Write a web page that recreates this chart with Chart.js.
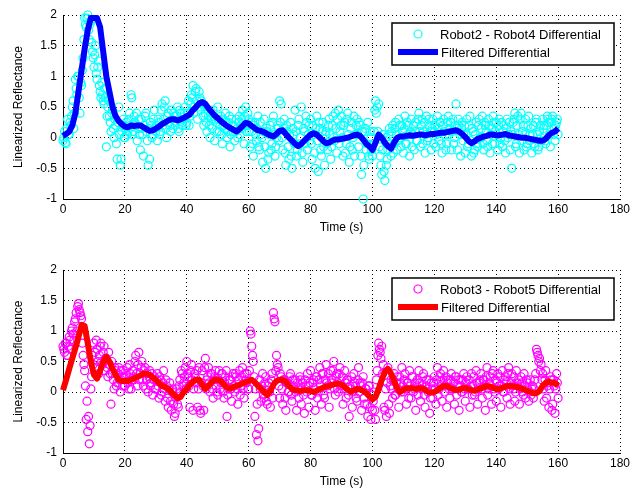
<!DOCTYPE html>
<html>
<head>
<meta charset="utf-8">
<script src="https://cdn.jsdelivr.net/npm/chart.js@4.4.0/dist/chart.umd.min.js"></script>
<style>
  html, body { margin: 0; padding: 0; background: #fff; }
  #fig { position: relative; width: 643px; height: 493px; }
  canvas { position: absolute; left: 0; }
</style>
</head>
<body>
<div id="fig">
  <canvas id="topChart" width="643" height="247" style="top:0;width:643px;height:247px"></canvas>
  <canvas id="bottomChart" width="643" height="246" style="top:247px;width:643px;height:246px"></canvas>
</div>
<script>
// sampling of the raw differential and the filtered trace (seconds)
const rawStep = 0.5;   // each raw array: one reading every 0.5 s
const rawOffsetB = 0.25; // second raw array sits between the first one's readings
const filtStep = 1;

const xTicks = [0, 20, 40, 60, 80, 100, 120, 140, 160, 180];
const yTicks = [-1, -0.5, 0, 0.5, 1, 1.5, 2];

// Robot2 - Robot4, raw readings at 0, 0.5, 1 ... s
const raw24 = [
  -0.05, 0.10, -0.10, 0.30, 0.05, 0.20, 0.50, 0.15, 0.95, 0.70,
  1.00, 0.40, 0.85, 1.30, 1.95, 1.80, 2.00, 1.60, 1.90, 1.40,
  1.15, 1.50, 0.95, 1.25, 0.75, 0.90, 0.60, 0.80, -0.15, 0.50,
  0.35, 0.10, 0.45, 0.00, 0.20, -0.35, 0.50, -0.45, 0.10, 0.30,
  0.00, 0.25, 0.10, 0.40, 0.70, 0.05, 0.35, 0.20, -0.05, 0.30,
  -0.20, 0.15, -0.30, 0.35, 0.10, -0.45, -0.35, 0.20, 0.05, 0.45,
  0.10, -0.05, 0.25, 0.10, 0.55, 0.30, 0.60, 0.00, 0.40, 0.20,
  0.45, 0.15, 0.35, 0.25, 0.50, 0.10, 0.40, 0.20, 0.30, 0.50,
  0.25, 0.60, 0.35, 0.70, 0.85, 0.50, 0.80, 0.30, 0.75, 0.45,
  0.55, 0.20, 0.40, 0.10, 0.35, 0.00, 0.30, 0.45, -0.05, 0.25,
  0.50, 0.10, 0.35, -0.10, 0.20, 0.40, 0.00, 0.25, -0.15, 0.30,
  0.10, -0.05, 0.30, 0.00, 0.35, 0.15, 0.45, -0.10, 0.50, 0.20,
  0.30, -0.15, 0.10, -0.30, 0.25, -0.05, 0.35, -0.20, 0.05, -0.40,
  0.30, -0.50, 0.10, -0.25, 0.20, -0.10, 0.35, -0.30, 0.00, 0.15,
  0.60, 0.55, -0.20, 0.30, -0.45, 0.10, -0.35, 0.25, -0.50, 0.05,
  0.45, -0.30, 0.20, -0.10, 0.50, -0.40, 0.10, 0.35, -0.20, 0.20,
  0.30, -0.35, 0.05, -0.50, 0.35, -0.55, 0.15, -0.30, 0.25, -0.45,
  0.10, -0.20, 0.30, -0.35, 0.20, 0.00, 0.40, -0.25, 0.45, 0.10,
  0.35, -0.30, 0.25, -0.10, 0.40, -0.40, 0.15, -0.20, 0.35, 0.05,
  0.30, -0.15, 0.20, -0.60, -1.00, 0.10, -0.20, 0.25, -0.35, 0.00,
  -0.30, 0.10, 0.60, 0.50, 0.55, -0.30, -0.60, 0.05, -0.70, -0.45,
  -0.20, 0.15, -0.30, 0.20, -0.10, 0.25, -0.20, 0.30, 0.00, 0.20,
  -0.25, 0.35, -0.10, 0.20, -0.30, 0.30, 0.05, -0.20, 0.25, -0.05,
  0.40, -0.15, 0.30, 0.10, -0.25, 0.35, 0.00, 0.20, -0.20, 0.30,
  0.10, -0.15, 0.35, -0.05, 0.25, -0.25, 0.30, 0.05, -0.10, 0.35,
  0.15, -0.20, 0.30, 0.00, 0.55, -0.20, 0.20, -0.30, 0.25, 0.05,
  -0.25, 0.30, -0.10, 0.35, -0.30, 0.10, -0.20, 0.25, -0.15, 0.30,
  0.00, 0.35, -0.20, 0.20, -0.05, 0.30, -0.25, 0.15, 0.35, -0.10,
  0.25, -0.20, 0.30, 0.00, -0.15, 0.20, -0.25, 0.30, 0.05, -0.20,
  -0.50, 0.25, 0.40, -0.10, 0.35, -0.25, 0.40, 0.10, -0.20, 0.30,
  -0.10, 0.35, 0.05, -0.25, 0.20, -0.15, 0.30, -0.20, 0.10, 0.00,
  0.30, 0.20, -0.10, 0.35, 0.25, -0.15, 0.30, 0.05, -0.05, 0.25,
  0.05
];

// Robot2 - Robot4, raw readings at 0.25, 0.75, 1.25 ... s
const raw24b = [
  0.00, -0.08, 0.15, 0.05, 0.25, 0.35, 0.60, 0.40, 0.80, 1.00,
  0.65, 0.90, 1.10, 1.60, 1.85, 1.95, 1.75, 1.85, 1.55, 1.30,
  1.35, 1.05, 1.15, 0.85, 0.65, 0.70, 0.55, 0.65, 0.35, 0.60,
  0.25, 0.40, 0.15, 0.30, -0.10, 0.25, 0.05, -0.35, 0.20, 0.00,
  0.15, 0.05, 0.30, 0.20, 0.65, 0.10, 0.25, 0.40, 0.15, 0.05,
  0.30, 0.05, 0.20, 0.40, -0.05, 0.15, 0.25, 0.00, 0.30, 0.15,
  0.20, 0.30, 0.05, 0.45, 0.20, 0.50, 0.15, 0.35, 0.25, 0.10,
  0.30, 0.40, 0.20, 0.35, 0.15, 0.45, 0.30, 0.25, 0.40, 0.20,
  0.40, 0.20, 0.55, 0.65, 0.40, 0.75, 0.60, 0.50, 0.65, 0.60,
  0.35, 0.50, 0.25, 0.45, 0.20, 0.40, 0.15, 0.35, 0.30, 0.10,
  0.30, 0.20, 0.05, 0.30, 0.15, 0.25, 0.10, 0.35, 0.05, 0.20,
  0.20, 0.10, 0.15, 0.25, 0.05, 0.30, 0.20, 0.35, 0.10, 0.40,
  0.10, 0.25, -0.10, 0.20, 0.05, 0.15, -0.15, 0.25, 0.00, 0.10,
  -0.15, 0.15, -0.35, 0.05, -0.20, 0.25, 0.05, -0.15, 0.20, -0.05,
  0.25, 0.00, 0.15, -0.25, 0.20, -0.15, 0.05, -0.30, 0.15, -0.10,
  0.10, -0.20, 0.30, 0.00, -0.25, 0.15, -0.10, 0.25, 0.05, -0.05,
  -0.10, 0.20, -0.25, 0.15, -0.05, 0.25, -0.20, 0.10, -0.15, 0.05,
  -0.10, 0.20, 0.05, -0.15, 0.35, -0.05, 0.15, 0.30, -0.10, 0.20,
  0.00, 0.20, -0.25, 0.30, 0.05, -0.15, 0.25, 0.00, -0.30, 0.20,
  0.05, 0.25, -0.30, 0.10, -0.45, 0.15, -0.10, -0.30, 0.10, -0.20,
  -0.10, 0.45, 0.40, 0.10, -0.15, -0.45, -0.20, -0.55, 0.00, -0.35,
  0.05, -0.10, 0.10, -0.25, 0.15, 0.05, -0.05, 0.20, -0.15, 0.10,
  0.15, -0.10, 0.25, 0.05, 0.10, -0.15, 0.20, 0.10, -0.05, 0.30,
  0.10, 0.20, -0.10, 0.25, 0.05, -0.05, 0.30, 0.10, 0.15, -0.10,
  0.20, 0.05, 0.15, 0.25, -0.10, 0.20, 0.10, -0.20, 0.25, 0.05,
  0.25, 0.10, -0.10, 0.20, 0.15, 0.30, 0.05, 0.15, -0.05, 0.20,
  0.05, -0.15, 0.20, -0.05, 0.15, -0.25, 0.05, -0.10, 0.20, 0.00,
  0.15, -0.10, 0.25, 0.10, -0.15, 0.20, 0.05, -0.10, 0.25, 0.10,
  0.05, 0.20, -0.10, 0.25, 0.10, -0.05, 0.15, 0.00, 0.25, 0.10,
  0.05, 0.30, -0.15, 0.20, 0.05, 0.30, -0.05, 0.20, 0.05, -0.15,
  0.20, -0.05, 0.15, 0.05, -0.10, 0.25, 0.05, -0.15, 0.20, -0.05,
  0.15, -0.05, 0.20, 0.30, 0.05, 0.25, 0.35, 0.15, 0.20, 0.30
];

// Robot2 - Robot4, filtered, every 1 s
const filt24 = [
  0.03, 0.06, 0.10, 0.20, 0.40, 0.75, 1.10, 1.45, 1.75, 1.95,
  1.95, 1.95, 1.80, 1.40, 1.00, 0.75, 0.50, 0.35, 0.27, 0.22,
  0.18, 0.17, 0.20, 0.19, 0.20, 0.20, 0.17, 0.14, 0.11, 0.12,
  0.15, 0.18, 0.22, 0.25, 0.28, 0.30, 0.30, 0.28, 0.30, 0.32,
  0.35, 0.38, 0.45, 0.50, 0.56, 0.58, 0.55, 0.48, 0.42, 0.36,
  0.32, 0.27, 0.23, 0.19, 0.16, 0.13, 0.10, 0.14, 0.19, 0.24,
  0.23, 0.19, 0.15, 0.12, 0.11, 0.09, 0.06, 0.04, 0.02, 0.06,
  0.11, 0.12, 0.06, 0.00, -0.05, -0.10, -0.14, -0.10, -0.05, 0.00,
  0.05, 0.07, 0.05, 0.00, -0.05, -0.09, -0.08, -0.05, -0.03, -0.03,
  -0.02, -0.01, 0.00, 0.02, 0.04, 0.05, 0.03, -0.03, -0.10, -0.14,
  -0.20, -0.08, 0.05, 0.00, -0.08, -0.14, -0.18, -0.08, 0.00, 0.02,
  0.02, 0.03, 0.04, 0.03, 0.04, 0.05, 0.05, 0.04, 0.05, 0.06,
  0.06, 0.07, 0.08, 0.08, 0.09, 0.10, 0.11, 0.12, 0.10, 0.06,
  0.01, -0.05, -0.09, -0.06, -0.02, 0.00, 0.02, 0.03, 0.05, 0.05,
  0.04, 0.04, 0.05, 0.06, 0.04, 0.03, 0.02, 0.01, 0.00, 0.00,
  -0.01, -0.02, -0.03, -0.04, -0.05, -0.05, -0.02, 0.04, 0.08, 0.10,
  0.15
];

// Robot3 - Robot5, raw readings at 0, 0.5, 1 ... s
const raw35 = [
  0.75, 0.65, 0.80, 0.60, 0.90, 0.70, 1.05, 0.85, 1.20, 1.00,
  1.45, 1.30, 1.20, 0.60, 0.35, -0.45, -0.65, -0.85, 0.05, 0.60,
  0.80, 0.40, 0.70, 0.30, 0.75, 0.50, 0.65, 0.35, 0.55, 0.25,
  0.45, -0.20, 0.30, 0.05, 0.35, 0.15, 0.40, 0.00, 0.25, 0.35,
  0.10, 0.30, 0.15, 0.45, 0.05, 0.35, 0.20, 0.60, 0.10, 0.65,
  0.30, 0.50, 0.10, 0.40, 0.20, 0.00, 0.35, 0.15, -0.05, 0.25,
  0.05, 0.30, -0.10, 0.20, 0.00, 0.35, -0.15, 0.10, -0.25, 0.15,
  -0.30, 0.05, -0.40, -0.10, -0.20, 0.10, 0.00, 0.30, 0.15, 0.40,
  0.50, 0.25, -0.25, 0.45, -0.30, 0.30, 0.15, -0.25, 0.40, -0.35,
  0.35, -0.30, 0.55, 0.20, 0.40, 0.00, 0.30, -0.10, 0.25, 0.10,
  -0.05, 0.35, 0.15, 0.30, -0.10, 0.25, -0.40, 0.05, 0.20, -0.15,
  0.30, 0.00, 0.25, -0.20, 0.35, 0.10, 0.40, -0.10, 0.20, 0.30,
  0.05, 1.00, 0.75, 0.50, -0.40, -0.70, -0.80, 0.20, -0.15, 0.30,
  -0.10, 0.25, -0.20, 0.15, -0.25, 0.30, 1.30, 1.15, 0.60, 0.40,
  -0.10, 0.25, -0.20, 0.20, -0.30, 0.15, 0.00, 0.30, -0.15, 0.10,
  0.20, -0.30, 0.05, 0.25, -0.20, 0.15, -0.35, 0.10, 0.30, -0.25,
  0.35, -0.05, 0.20, -0.30, 0.25, 0.00, 0.40, -0.20, 0.30, -0.10,
  0.45, 0.10, -0.25, 0.35, 0.15, 0.50, -0.05, 0.30, 0.00, 0.40,
  0.10, -0.20, 0.35, -0.10, 0.20, -0.40, 0.05, -0.25, 0.30, 0.10,
  -0.15, 0.40, 0.15, -0.30, 0.25, -0.20, 0.05, -0.40, 0.10, -0.45,
  -0.30, 0.00, -0.45, 0.35, 0.80, 0.65, 0.75, 0.45, -0.30, -0.40,
  0.40, -0.35, 0.20, -0.10, 0.30, -0.05, 0.25, -0.25, 0.15, 0.40,
  0.00, 0.30, -0.20, 0.15, 0.35, -0.10, 0.25, 0.05, -0.30, 0.20,
  0.35, -0.15, 0.10, 0.30, -0.25, 0.20, 0.00, -0.35, 0.15, -0.10,
  0.25, -0.20, 0.40, 0.05, 0.30, -0.15, 0.35, 0.10, -0.25, 0.20,
  -0.10, 0.30, 0.05, -0.20, 0.25, 0.10, -0.30, 0.20, 0.00, 0.30,
  -0.15, 0.25, 0.05, -0.25, 0.30, 0.10, -0.05, 0.35, -0.20, 0.15,
  0.30, -0.10, 0.20, -0.30, 0.40, 0.05, 0.25, -0.20, 0.35, 0.00,
  -0.15, 0.30, 0.10, -0.25, 0.35, 0.00, 0.25, -0.10, 0.40, -0.20,
  0.30, 0.05, -0.15, 0.35, 0.10, -0.20, 0.25, 0.00, 0.30, -0.10,
  0.15, -0.15, 0.20, 0.05, -0.10, 0.20, 0.70, 0.60, 0.55, 0.45,
  0.30, -0.15, 0.35, 0.10, -0.25, 0.25, -0.30, 0.20, -0.35, 0.30,
  -0.10
];

// Robot3 - Robot5, raw readings at 0.25, 0.75, 1.25 ... s
const raw35b = [
  0.70, 0.80, 0.60, 0.75, 0.85, 1.00, 0.95, 1.15, 1.30, 1.40,
  1.35, 1.25, 0.80, 0.45, 0.10, -0.15, -0.40, -0.55, 0.25, 0.45,
  0.65, 0.85, 0.50, 0.60, 0.80, 0.45, 0.75, 0.55, 0.40, 0.65,
  0.30, 0.50, 0.20, 0.40, 0.10, 0.30, 0.20, 0.35, 0.10, 0.25,
  0.25, 0.40, 0.05, 0.30, 0.20, 0.25, 0.50, 0.30, 0.45, 0.20,
  0.40, 0.20, 0.35, 0.05, 0.30, 0.25, 0.10, 0.30, 0.20, 0.05,
  0.20, 0.10, 0.25, -0.05, 0.15, 0.05, 0.20, -0.10, 0.05, -0.15,
  0.00, -0.20, -0.35, 0.05, -0.25, 0.20, 0.35, 0.10, 0.25, 0.05,
  0.30, 0.10, 0.35, 0.20, 0.05, 0.25, 0.35, 0.05, -0.30, 0.15,
  0.10, 0.40, 0.05, 0.25, 0.15, 0.30, 0.05, 0.20, 0.35, 0.00,
  0.20, 0.05, 0.30, 0.00, 0.15, 0.35, -0.05, 0.20, 0.05, 0.25,
  0.10, 0.30, 0.05, 0.20, -0.05, 0.25, 0.05, 0.30, 0.15, 0.05,
  0.35, 0.95, 0.60, 0.25, 0.05, -0.20, -0.60, 0.05, 0.10, -0.05,
  0.15, -0.15, 0.10, 0.00, 0.20, -0.10, 1.20, 0.35, 0.45, 0.10,
  0.30, 0.05, 0.20, -0.10, 0.15, 0.00, 0.25, -0.05, 0.20, 0.05,
  0.00, 0.15, -0.10, 0.20, 0.05, -0.05, 0.20, 0.00, 0.10, 0.15,
  -0.05, 0.15, 0.05, 0.25, -0.10, 0.20, 0.10, 0.30, -0.05, 0.20,
  0.15, 0.30, 0.05, 0.20, 0.35, 0.05, 0.25, 0.15, 0.30, 0.05,
  0.25, 0.05, 0.15, 0.20, -0.05, 0.10, 0.25, 0.00, 0.15, -0.10,
  0.20, 0.00, 0.10, 0.15, -0.10, 0.05, -0.20, 0.10, -0.25, -0.05,
  -0.15, -0.30, 0.20, 0.60, 0.70, 0.55, 0.30, -0.25, 0.05, 0.15,
  -0.20, 0.10, 0.05, 0.20, -0.05, 0.15, 0.05, 0.25, 0.00, 0.10,
  0.20, 0.05, 0.15, -0.10, 0.10, 0.25, 0.00, 0.15, 0.10, -0.05,
  0.15, 0.05, 0.25, -0.05, 0.10, 0.05, 0.20, -0.10, 0.05, 0.15,
  0.05, 0.20, -0.05, 0.25, 0.10, 0.20, 0.00, 0.25, 0.15, 0.05,
  0.20, 0.05, 0.15, 0.25, -0.05, 0.20, 0.10, 0.00, 0.20, 0.05,
  0.15, 0.05, 0.20, 0.10, -0.05, 0.25, 0.00, 0.15, 0.05, 0.20,
  0.05, 0.20, 0.10, 0.25, -0.05, 0.15, 0.10, 0.30, 0.05, 0.20,
  0.15, 0.05, 0.25, 0.10, 0.00, 0.20, 0.15, 0.30, 0.05, 0.15,
  0.10, 0.25, 0.00, 0.15, 0.20, 0.05, 0.15, -0.05, 0.10, 0.20,
  0.05, 0.00, -0.05, 0.10, 0.05, 0.30, 0.65, 0.50, 0.35, 0.20,
  0.05, 0.20, -0.10, 0.15, 0.05, 0.20, -0.20, 0.10, 0.05, 0.15
];

// Robot3 - Robot5, filtered, every 1 s
const filt35 = [
  0.03, 0.20, 0.38, 0.55, 0.72, 0.90, 1.10, 1.08, 0.80, 0.50,
  0.28, 0.22, 0.35, 0.50, 0.58, 0.50, 0.38, 0.28, 0.20, 0.18,
  0.18, 0.18, 0.20, 0.22, 0.25, 0.27, 0.30, 0.30, 0.28, 0.24,
  0.20, 0.15, 0.10, 0.08, 0.05, 0.00, -0.05, -0.10, -0.08, 0.00,
  0.05, 0.12, 0.17, 0.20, 0.20, 0.12, 0.05, 0.10, 0.16, 0.20,
  0.20, 0.18, 0.12, 0.07, 0.06, 0.08, 0.10, 0.12, 0.14, 0.16,
  0.18, 0.20, 0.16, 0.10, 0.05, 0.00, -0.05, 0.02, 0.12, 0.18,
  0.20, 0.20, 0.17, 0.10, 0.05, 0.03, 0.02, 0.02, 0.03, 0.03,
  0.02, 0.00, 0.02, 0.05, 0.07, 0.09, 0.10, 0.12, 0.13, 0.14,
  0.12, 0.08, 0.04, 0.00, 0.03, 0.05, 0.04, 0.02, -0.02, -0.07,
  -0.12, -0.08, 0.05, 0.20, 0.33, 0.38, 0.30, 0.18, 0.06, 0.00,
  0.04, 0.06, 0.06, 0.06, 0.05, 0.06, 0.06, 0.04, 0.00, -0.01,
  0.00, 0.03, 0.07, 0.10, 0.10, 0.07, 0.05, 0.03, 0.04, 0.06,
  0.07, 0.05, 0.03, 0.02, 0.04, 0.06, 0.08, 0.10, 0.09, 0.07,
  0.05, 0.05, 0.07, 0.09, 0.10, 0.10, 0.09, 0.08, 0.06, 0.04,
  0.02, 0.00, -0.02, -0.02, 0.02, 0.10, 0.15, 0.17, 0.15, 0.15,
  0.10
];

const toPoints = (vals, step, offset = 0) => vals.map((v, i) => ({ x: offset + i * step, y: v }));

const FONT = 'Liberation Sans, Arial, Helvetica, sans-serif';

// MATLAB style legend box in the upper right of the axes
const boxLegend = {
  id: 'boxLegend',
  afterDraw(chart) {
    const { ctx, chartArea } = chart;
    const raw = chart.data.datasets[0];
    const filt = chart.data.datasets[1];
    const w = 222, h = 42;
    const left = chartArea.right - 6 - w;
    const top = chartArea.top + 8;
    ctx.save();
    ctx.fillStyle = '#fff';
    ctx.fillRect(left, top, w, h);
    ctx.strokeStyle = '#000';
    ctx.lineWidth = 1.5;
    ctx.strokeRect(left, top, w, h);

    // raw marker
    ctx.beginPath();
    ctx.arc(left + 26, top + 11, 4, 0, Math.PI * 2);
    ctx.strokeStyle = raw.borderColor;
    ctx.lineWidth = 1.2;
    ctx.stroke();

    // filtered line sample
    ctx.beginPath();
    ctx.moveTo(left + 6, top + 29);
    ctx.lineTo(left + 46, top + 29);
    ctx.strokeStyle = filt.borderColor;
    ctx.lineWidth = 6;
    ctx.stroke();

    ctx.fillStyle = '#000';
    ctx.font = '13px ' + FONT;
    ctx.textBaseline = 'middle';
    ctx.fillText(raw.label, left + 48, top + 12);
    ctx.fillText(filt.label, left + 49, top + 30);
    ctx.restore();
  }
};

function makeChart(id, rawA, rawB, filtVals, rawLabel, rawColor, filtColor, padTop, xAxisH, titlePad) {
  return new Chart(document.getElementById(id), {
    type: 'scatter',
    data: {
      datasets: [{
        label: rawLabel,
        data: toPoints(rawA, rawStep).concat(toPoints(rawB, rawStep, rawOffsetB)),
        borderColor: rawColor,
        backgroundColor: 'rgba(0,0,0,0)',
        pointRadius: 4,
        pointBorderWidth: 1.2,
        showLine: false,
        order: 2,
        clip: 8
      }, {
        label: 'Filtered Differential',
        data: toPoints(filtVals, filtStep),
        borderColor: filtColor,
        backgroundColor: filtColor,
        borderWidth: 6,
        borderJoinStyle: 'round',
        pointRadius: 0,
        showLine: true,
        tension: 0,
        order: 1,
        clip: 8
      }]
    },
    options: {
      responsive: false,
      animation: false,
      devicePixelRatio: 1,
      events: [],
      layout: { padding: { top: padTop, right: 23, left: 0, bottom: 0 } },
      plugins: { legend: { display: false }, tooltip: { enabled: false } },
      scales: {
        x: {
          type: 'linear',
          min: 0, max: 180,
          afterBuildTicks: axis => { axis.ticks = xTicks.map(v => ({ value: v })); },
          afterFit: axis => { axis.height = xAxisH; },
          grid: { color: '#000', lineWidth: 1, drawTicks: false },
          border: { color: '#000', width: 1, dash: [1, 3] },
          ticks: { color: '#000', padding: 3, maxRotation: 0, font: { family: FONT, size: 12 } },
          title: { display: true, text: 'Time (s)', color: '#000', padding: { top: 0, bottom: titlePad }, font: { family: FONT, size: 12 } }
        },
        y: {
          min: -1, max: 2,
          afterBuildTicks: axis => { axis.ticks = yTicks.map(v => ({ value: v })); },
          afterFit: axis => { axis.width = 63; },
          grid: { color: '#000', lineWidth: 1, drawTicks: false },
          border: { color: '#000', width: 1, dash: [1, 3] },
          ticks: {
            color: '#000', padding: 6, font: { family: FONT, size: 12 },
            callback: v => String(Math.round(v * 10) / 10)
          },
          title: { display: true, text: 'Linearized Reflectance', color: '#000', padding: { top: 11, bottom: 0 }, font: { family: FONT, size: 12 } }
        }
      }
    },
    plugins: [boxLegend]
  });
}

makeChart('topChart', raw24, raw24b, filt24, 'Robot2 - Robot4 Differential', '#00ffff', '#0000ff', 15, 48, 12);
makeChart('bottomChart', raw35, raw35b, filt35, 'Robot3 - Robot5 Differential', '#ff00ff', '#ff0000', 23, 40, 4);
</script>
</body>
</html>
